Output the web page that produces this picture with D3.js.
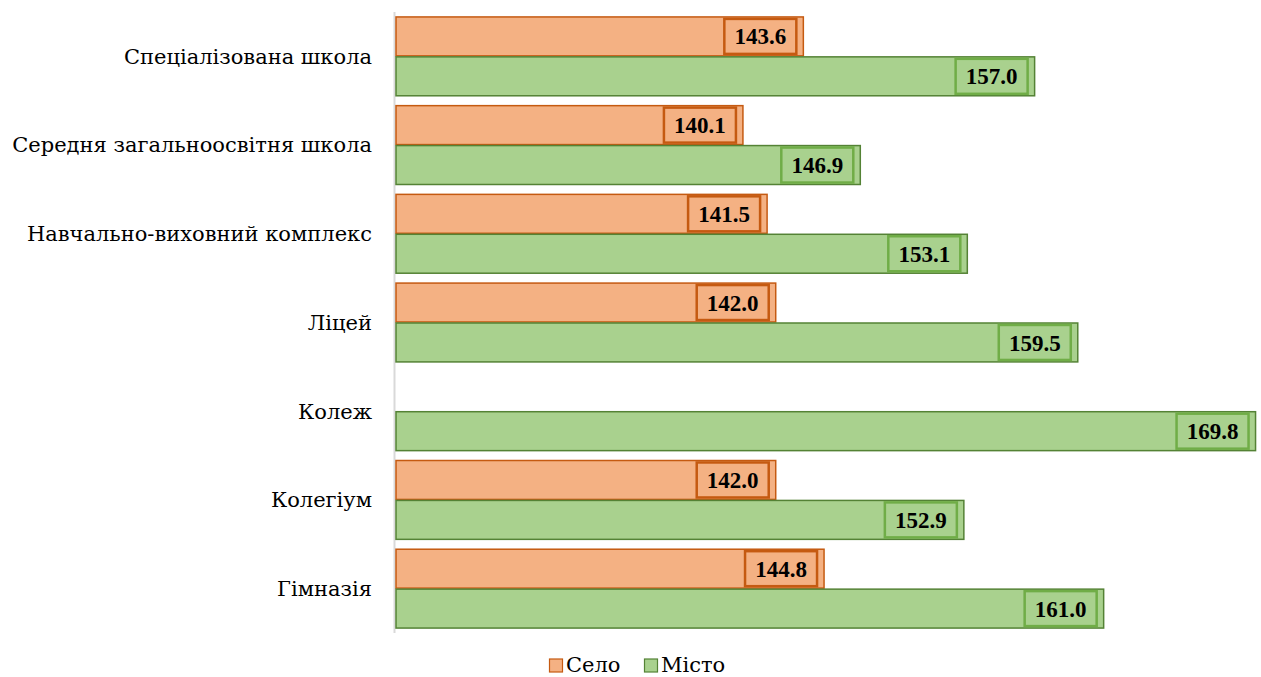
<!DOCTYPE html>
<html>
<head>
<meta charset="utf-8">
<script src="https://cdn.jsdelivr.net/npm/d3@7"></script>
<style>
  body { margin: 0; background: #fff; }
</style>
</head>
<body>
<div id="chart"></div>
<script>
// Data
const categories = [
    'Спеціалізована школа',
    'Середня загальноосвітня школа',
    'Навчально-виховний комплекс',
    'Ліцей',
    'Колеж',
    'Колегіум',
    'Гімназія'
];
const seloValues = [143.6, 140.1, 141.5, 142.0, null, 142.0, 144.8];
const mistoValues = [157.0, 146.9, 153.1, 159.5, 169.8, 152.9, 161.0];
const seriesNames = ['Село', 'Місто'];

const width = 1261;
const height = 677;
const margin = { top: 12, right: 2, bottom: 44, left: 396 };
// Cyrillic needs a serif face that really carries the glyphs
const cyrSerif = '"DejaVu Serif", serif';
const numSerif = '"Liberation Serif", "Times New Roman", serif';

const colors = {
    'Село': { fill: '#F4B183', stroke: '#C55A11', box: '#C55A11' },
    'Місто': { fill: '#A9D18E', stroke: '#548235', box: '#70AD47' }
};

const svg = d3.select('#chart').append('svg')
    .attr('width', width)
    .attr('height', height);

const x = d3.scaleLinear()
    .domain([120, 170])
    .range([margin.left, width - margin.right]);

const y = d3.scaleBand()
    .domain(categories)
    .range([margin.top, height - margin.bottom])
    .paddingInner(0.1)
    .paddingOuter(0.05);

const ySub = d3.scaleBand()
    .domain(seriesNames)
    .range([0, y.bandwidth()]);

// Vertical axis line
svg.append('line')
    .attr('x1', margin.left - 1.5).attr('x2', margin.left - 1.5)
    .attr('y1', margin.top).attr('y2', height - margin.bottom)
    .style('stroke', '#d9d9d9')
    .style('stroke-width', 2);

// Category labels
svg.selectAll('.cat')
    .data(categories)
    .enter().append('text')
    .attr('class', 'cat')
    .attr('x', margin.left - 24)
    .attr('y', d => y(d) + y.bandwidth() / 2)
    .attr('dy', '0.35em')
    .attr('text-anchor', 'end')
    .attr('font-family', cyrSerif)
    .style('font-size', '21px')
    .style('fill', '#000')
    .text(d => d);

const rows = [];
categories.forEach((c, i) => {
    rows.push({ cat: c, series: 'Село', value: seloValues[i] });
    rows.push({ cat: c, series: 'Місто', value: mistoValues[i] });
});
const bars = rows.filter(r => r.value != null);

const g = svg.append('g');

g.selectAll('.bar')
    .data(bars)
    .enter().append('rect')
    .attr('class', 'bar')
    .attr('x', x(120))
    .attr('y', d => y(d.cat) + ySub(d.series) + 0.5)
    .attr('width', d => x(d.value) - x(120))
    .attr('height', ySub.bandwidth() - 1)
    .style('fill', d => colors[d.series].fill)
    .style('stroke', d => colors[d.series].stroke)
    .style('stroke-width', 1.5);

// Data labels with boxes
const labels = g.selectAll('.lbl')
    .data(bars)
    .enter().append('g')
    .attr('class', 'lbl');

const boxW = 72, boxH = 35;
labels.append('rect')
    .attr('x', d => x(d.value) - 7 - boxW)
    .attr('y', d => y(d.cat) + ySub(d.series) + (ySub.bandwidth() - boxH) / 2)
    .attr('width', boxW)
    .attr('height', boxH)
    .style('fill', d => colors[d.series].fill)
    .style('stroke', d => colors[d.series].box)
    .style('stroke-width', 2.5);

labels.append('text')
    .attr('x', d => x(d.value) - 7 - boxW / 2)
    .attr('y', d => y(d.cat) + ySub(d.series) + ySub.bandwidth() / 2)
    .attr('dy', '0.35em')
    .attr('text-anchor', 'middle')
    .attr('font-family', numSerif)
    .style('font-size', '23px')
    .style('font-weight', 'bold')
    .style('fill', '#000')
    .text(d => d.value.toFixed(1));

// Legend
const legend = svg.append('g').attr('transform', 'translate(549, 665)');
const legendX = [0, 95];
seriesNames.forEach((s, i) => {
    const lg = legend.append('g').attr('transform', `translate(${legendX[i]}, 0)`);
    lg.append('rect')
        .attr('x', 0.5).attr('y', -6)
        .attr('width', 13).attr('height', 13)
        .style('fill', colors[s].fill)
        .style('stroke', colors[s].stroke)
        .style('stroke-width', 1.2);
    lg.append('text')
        .attr('x', 17).attr('y', 0)
        .attr('dy', '0.35em')
        .attr('font-family', cyrSerif)
        .style('font-size', '21px')
        .text(s);
});
</script>
</body>
</html>
